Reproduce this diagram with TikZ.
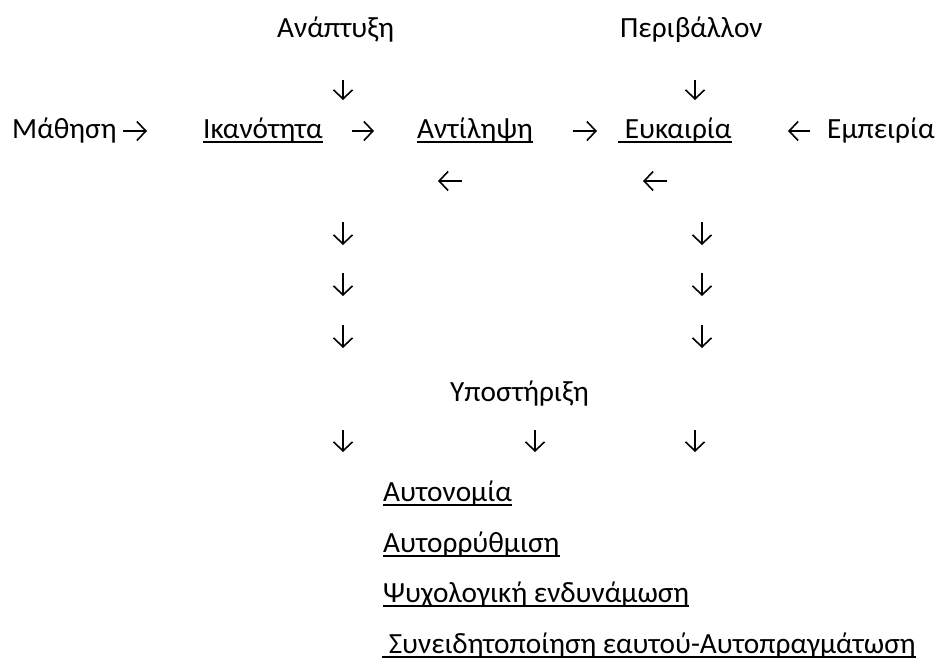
\documentclass[tikz,border=0pt]{standalone}
\usepackage{fontspec}
\setmainfont{Carlito}
\usetikzlibrary{arrows.meta}
\begin{document}
\begin{tikzpicture}[x=1pt, y=-1pt, txt/.style = {inner sep=0pt, anchor=base west, font=\fontsize{29.3}{34}\selectfont}, arr/.style = {line width=1.6pt, -{Straight Barb[length=9pt, width=19pt, line width=1.6pt]}}, uline/.style = {line width=1.8pt}]
        \useasboundingbox (0,0) rectangle (936,662);

        \draw (277, 37) node[txt] (anap) {Ανάπτυξη};
        \draw (620, 37) node[txt] (periv) {Περιβάλλον};

        \draw (12, 138) node[txt] (math) {Μάθηση};
        \draw (203, 138) node[txt] (ikan) {Ικανότητα\ };
        \draw (417, 138) node[txt] (antil) {Αντίληψη};
        \draw (618, 138) node[txt] (eukair) {\ Ευκαιρία};
        \draw (827, 138) node[txt] (empeir) {Εμπειρία};

        \draw (450, 401) node[txt] (ypost) {Υποστήριξη};

        \draw (383, 501) node[txt] (auton) {Αυτονομία};
        \draw (383, 552) node[txt] (autor) {Αυτορρύθμιση};
        \draw (383, 602) node[txt] (psych) {Ψυχολογική ενδυνάμωση};
        \draw (382, 653) node[txt] (syn) {\ Συνειδητοποίηση εαυτού-Αυτοπραγμάτωση};

        \foreach \n in {ikan, antil, eukair, auton, autor, psych, syn}
          \draw[uline] ([yshift=-4pt]\n.base west) -- ([yshift=-4pt]\n.base east);

        % arrows
        \draw[arr] (343, 80) -- (343, 100);
        \draw[arr] (695, 80) -- (695, 100);

        \draw[arr] (123, 131) -- (147, 131);
        \draw[arr] (352, 131) -- (374, 131);
        \draw[arr] (573, 131) -- (597, 131);
        \draw[arr] (810, 131) -- (788, 131);

        \draw[arr] (462, 181) -- (438, 181);
        \draw[arr] (667, 181) -- (643, 181);

        \foreach \y in {222, 273, 325} {
          \draw[arr] (343, \y) -- (343, \y+23);
          \draw[arr] (702, \y) -- (702, \y+23);
        }

        \draw[arr] (343, 430) -- (343, 452);
        \draw[arr] (535, 430) -- (535, 452);
        \draw[arr] (695, 430) -- (695, 452);
      \end{tikzpicture}
\end{document}
